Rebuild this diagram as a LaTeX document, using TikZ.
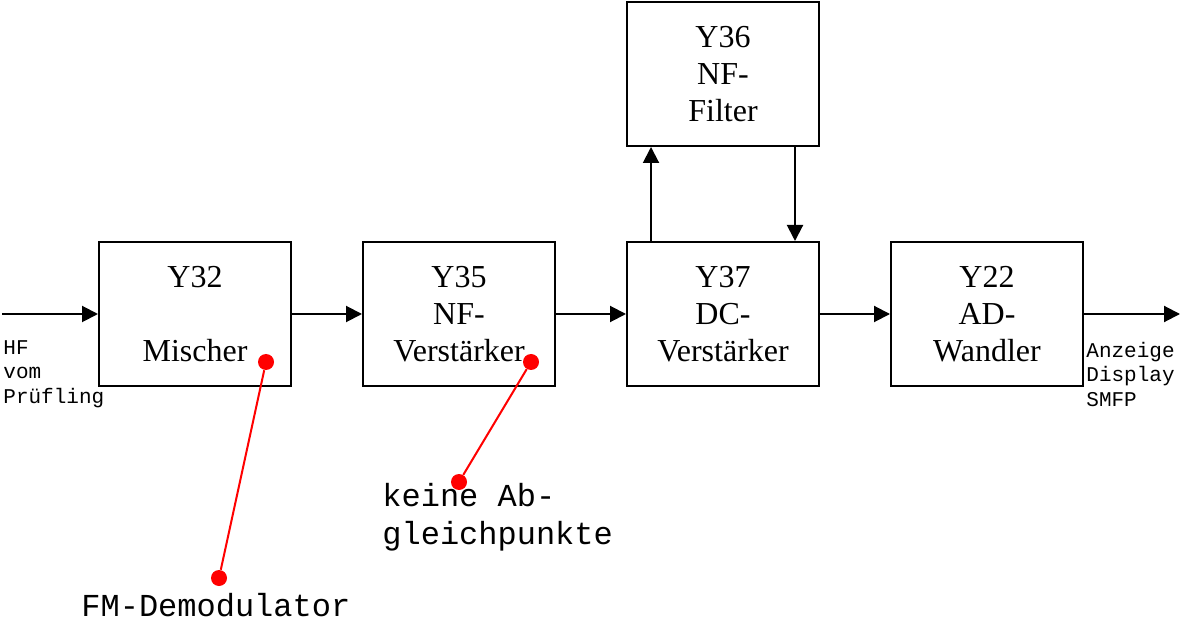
\documentclass[tikz,border=0pt]{standalone}
\usepackage{fontspec}
\setmainfont{Liberation Serif}
\setmonofont{Liberation Mono}
\usetikzlibrary{arrows.meta}
\tikzset{
  blk/.style={draw,line width=1pt,minimum width=96pt,minimum height=72pt,
    inner sep=0pt,align=center,font=\fontsize{16}{18.5}\selectfont},
  arr/.style={line width=1pt,-{Triangle[length=8pt,width=8pt]}},
  dot/.style={circle,fill=red,inner sep=0pt,minimum size=8pt},
  pin/.style={red,line width=1pt},
  small/.style={inner sep=0pt,align=left,font=\ttfamily\fontsize{10.5}{12.25}\selectfont},
  big/.style={inner sep=0pt,align=left,font=\ttfamily\fontsize{16}{19}\selectfont}
}
\begin{document}
\begin{tikzpicture}[x=0.5pt,y=-0.5pt]
  \useasboundingbox (0,0) rectangle (1181,624);
  \node[blk] (a) at (195,314) {Y32\\\mbox{}\\Mischer};
  \node[blk] (b) at (459,314) {Y35\\NF-\\Verstärker};
  \node[blk] (c) at (723,314) {Y37\\DC-\\Verstärker};
  \node[blk] (d) at (987,314) {Y22\\AD-\\Wandler};
  \node[blk] (f) at (723,74) {Y36\\NF-\\Filter};
  \coordinate (in) at (2,314);
  \coordinate (out) at (1180,314);
  \draw[arr] (in) -- (a);
  \draw[arr] (a) -- (b);
  \draw[arr] (b) -- (c);
  \draw[arr] (c) -- (d);
  \draw[arr] (d) -- (out);
  \draw[arr] ([xshift=-36pt]c.north) -- ([xshift=-36pt]f.south);
  \draw[arr] ([xshift=36pt]f.south) -- ([xshift=36pt]c.north);
  \node[small,anchor=west] (hf) at (3,374) {HF\\vom\\Prüfling};
  \node[small,anchor=west] (anz) at (1086,374) {Anzeige\\Display\\SMFP};
  \node[dot] (m1) at (266,362) {};
  \node[dot] (m2) at (219,578) {};
  \draw[pin] (m1) -- (m2);
  \node[dot] (v1) at (531,362) {};
  \node[dot] (v2) at (459,482) {};
  \draw[pin] (v1) -- (v2);
  \node[big,anchor=base west] (fm) at (81,616) {FM-Demodulator};
  \node[big,anchor=west] (kein) at (382,517) {keine Ab-\\gleichpunkte};
\end{tikzpicture}
\end{document}
